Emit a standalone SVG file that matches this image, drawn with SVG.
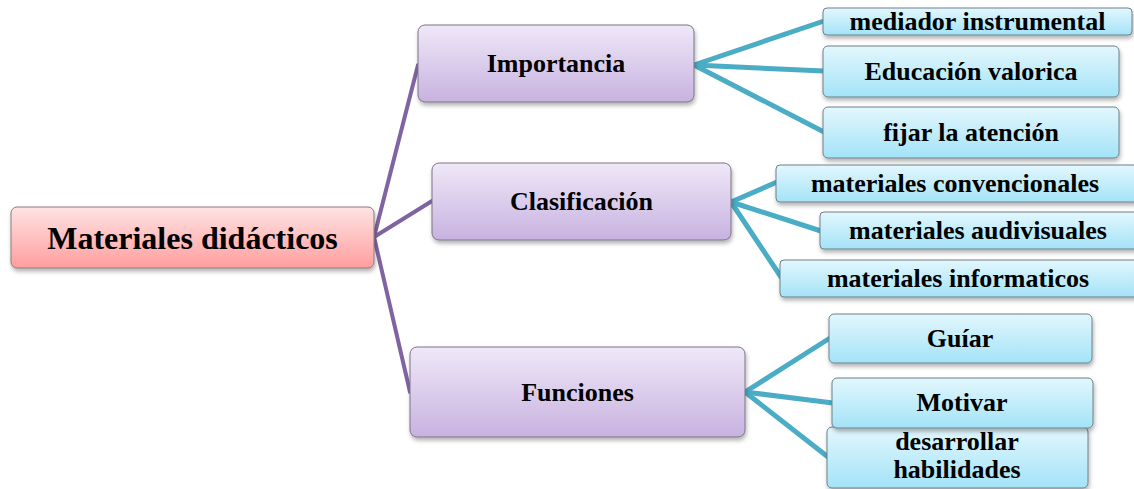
<svg xmlns="http://www.w3.org/2000/svg" width="1134" height="489" viewBox="0 0 1134 489">
<defs>
<linearGradient id="gRoot" x1="0" y1="0" x2="0" y2="1"><stop offset="0" stop-color="#ffe3e3"/><stop offset="1" stop-color="#ff9e9e"/></linearGradient>
<linearGradient id="gMid" x1="0" y1="0" x2="0" y2="1"><stop offset="0" stop-color="#efe8f8"/><stop offset="1" stop-color="#c8b2e0"/></linearGradient>
<linearGradient id="gLeaf" x1="0" y1="0" x2="0" y2="1"><stop offset="0" stop-color="#e3f7fd"/><stop offset="1" stop-color="#a3e3f8"/></linearGradient>
<filter id="sh" x="-10%" y="-20%" width="120%" height="150%"><feDropShadow dx="1" dy="3" stdDeviation="2" flood-color="#000" flood-opacity="0.3"/></filter>
</defs>
<style>
.root{fill:url(#gRoot);stroke:#8a7a7a;stroke-width:1;filter:url(#sh)}
.mid{fill:url(#gMid);stroke:#7a7484;stroke-width:1;filter:url(#sh)}
.leaf{fill:url(#gLeaf);stroke:#6f8088;stroke-width:1;filter:url(#sh)}
text{font-family:"Liberation Serif","Times New Roman",serif;font-weight:bold;fill:#000;text-anchor:middle}
.t26{font-size:26px}
.t32{font-size:32px}
.p{stroke:#8064a2;stroke-width:4;fill:none;stroke-linecap:round}
.c{stroke:#4bacc6;stroke-width:5;fill:none;stroke-linecap:round}
</style>
<g id="connectors">
<line class="p" x1="374" y1="237" x2="418" y2="65"/>
<line class="p" x1="374" y1="237" x2="432" y2="201"/>
<line class="p" x1="374" y1="237" x2="410" y2="392"/>
<line class="c" x1="694" y1="65" x2="824" y2="21"/>
<line class="c" x1="694" y1="65" x2="824" y2="71"/>
<line class="c" x1="694" y1="65" x2="824" y2="132"/>
<line class="c" x1="731" y1="202" x2="777" y2="182"/>
<line class="c" x1="731" y1="202" x2="821" y2="231"/>
<line class="c" x1="731" y1="202" x2="781" y2="277"/>
<line class="c" x1="745" y1="392" x2="830" y2="338"/>
<line class="c" x1="745" y1="392" x2="833" y2="403"/>
<line class="c" x1="745" y1="392" x2="828" y2="457"/>
</g>
<g id="root"><rect class="root" x="11" y="207" width="363" height="61" rx="6"/><text class="t32" x="192.5" y="249">Materiales didácticos</text></g>
<g id="importancia"><rect class="mid" x="418" y="25" width="276" height="77" rx="7"/><text class="t26" x="556" y="72">Importancia</text></g>
<g id="clasificacion"><rect class="mid" x="432" y="163" width="299" height="77" rx="7"/><text class="t26" x="581.5" y="210">Clasificación</text></g>
<g id="funciones"><rect class="mid" x="410" y="347" width="335" height="90" rx="7"/><text class="t26" x="577.5" y="401">Funciones</text></g>
<g id="mediador"><rect class="leaf" x="823" y="8" width="309" height="27" rx="4"/><text class="t26" x="977.5" y="30">mediador instrumental</text></g>
<g id="educacion"><rect class="leaf" x="823" y="46" width="296" height="51" rx="5"/><text class="t26" x="971" y="80">Educación valorica</text></g>
<g id="fijar"><rect class="leaf" x="823" y="107" width="296" height="51" rx="5"/><text class="t26" x="971" y="141">fijar la atención</text></g>
<g id="convencionales"><rect class="leaf" x="776" y="165" width="366" height="37" rx="4"/><text class="t26" x="955" y="192">materiales convencionales</text></g>
<g id="audivisuales"><rect class="leaf" x="820" y="212" width="322" height="37" rx="4"/><text class="t26" x="978" y="239">materiales audivisuales</text></g>
<g id="informaticos"><rect class="leaf" x="780" y="260" width="362" height="37" rx="4"/><text class="t26" x="958" y="287">materiales informaticos</text></g>
<g id="guiar"><rect class="leaf" x="829" y="314" width="263" height="49" rx="5"/><text class="t26" x="960" y="347">Guíar</text></g>
<g id="desarrollar"><rect class="leaf" x="827" y="427" width="261" height="61" rx="5"/><text class="t26" x="957" y="450">desarrollar</text><text class="t26" x="957" y="478">habilidades</text></g>
<g id="motivar"><rect class="leaf" x="832" y="378" width="261" height="50" rx="5"/><text class="t26" x="962" y="411">Motivar</text></g>
</svg>
